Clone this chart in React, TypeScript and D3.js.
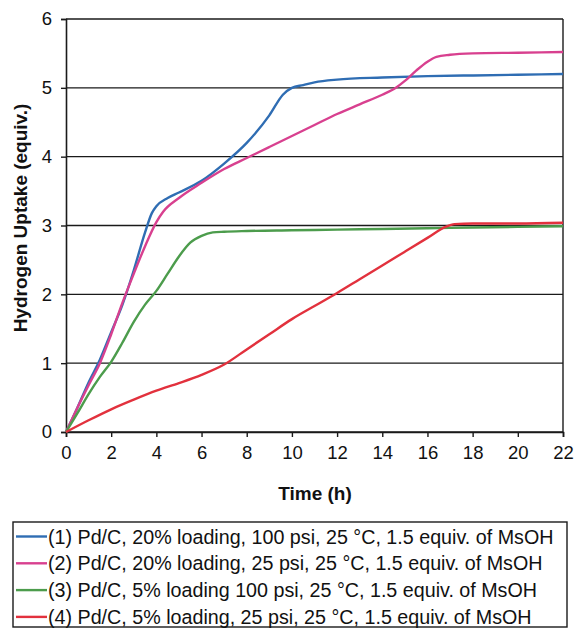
import React, { useRef, useEffect } from "react";
import { select, scaleLinear, line, curveMonotoneX, axisBottom, axisLeft } from "d3";

// hours and uptake
const blueT = [0, 0.5, 1, 1.5, 2, 2.5, 3, 3.5, 3.8, 4, 4.5, 5, 6, 7, 8, 9, 9.6, 10, 10.5, 11, 12, 14, 16, 18, 20, 22];
const blueY = [0, 0.35, 0.72, 1.05, 1.45, 1.85, 2.35, 2.9, 3.18, 3.28, 3.4, 3.48, 3.65, 3.9, 4.2, 4.6, 4.9, 5.0, 5.04, 5.08, 5.12, 5.15, 5.17, 5.18, 5.19, 5.2];

const pinkT = [0, 0.5, 1, 1.5, 2, 2.5, 3, 3.5, 4, 4.3, 5, 6, 7, 8, 9, 10, 11, 12, 13, 14, 14.6, 15, 15.5, 16, 16.4, 17, 18, 20, 22];
const pinkY = [0, 0.35, 0.68, 1.0, 1.42, 1.88, 2.3, 2.7, 3.05, 3.2, 3.4, 3.62, 3.82, 3.98, 4.14, 4.3, 4.46, 4.62, 4.76, 4.9, 5.0, 5.1, 5.25, 5.38, 5.45, 5.48, 5.5, 5.51, 5.52];

const greenT = [0, 0.5, 1, 1.5, 2, 2.5, 3, 3.5, 4, 4.5, 5, 5.5, 6, 6.5, 7, 8, 10, 12, 14, 16, 18, 20, 22];
const greenY = [0, 0.27, 0.55, 0.8, 1.02, 1.3, 1.6, 1.85, 2.05, 2.3, 2.55, 2.75, 2.85, 2.9, 2.91, 2.92, 2.93, 2.94, 2.95, 2.96, 2.97, 2.98, 2.99];

const redT = [0, 1, 2, 3, 4, 5, 6, 7, 8, 9, 10, 11, 12, 13, 14, 15, 16, 16.8, 17.2, 18, 20, 22];
const redY = [0, 0.17, 0.33, 0.47, 0.6, 0.71, 0.83, 0.98, 1.2, 1.42, 1.64, 1.83, 2.02, 2.22, 2.42, 2.62, 2.82, 2.98, 3.02, 3.03, 3.03, 3.04];

const xTicks = [0, 2, 4, 6, 8, 10, 12, 14, 16, 18, 20, 22];
const yTicks = [0, 1, 2, 3, 4, 5, 6];

const legendLabels = [
    "(1) Pd/C, 20% loading, 100 psi, 25 °C, 1.5 equiv. of MsOH",
    "(2) Pd/C, 20% loading, 25 psi, 25 °C, 1.5 equiv. of MsOH",
    "(3) Pd/C, 5% loading 100 psi, 25 °C, 1.5 equiv. of MsOH",
    "(4) Pd/C, 5% loading, 25 psi, 25 °C, 1.5 equiv. of MsOH"
];
const colors = ["#2f6db3", "#d8408f", "#4c9c4c", "#e2313d"];

const series = [
    { t: blueT, y: blueY },
    { t: pinkT, y: pinkY },
    { t: greenT, y: greenY },
    { t: redT, y: redY }
];

function App() {
    const svgRef = useRef<SVGSVGElement>(null);

    useEffect(() => {
        const svg = select(svgRef.current);
        svg.selectAll("*").remove();

        const left = 66, right = 563, top = 19, bottom = 432;
        const x = scaleLinear().domain([0, 22]).range([left, right]);
        const y = scaleLinear().domain([0, 6]).range([bottom, top]);
        const font = "'Liberation Sans', Arial, sans-serif";

        // horizontal grid
        svg.append("g")
            .selectAll("line")
            .data(yTicks)
            .join("line")
            .attr("x1", left)
            .attr("x2", right)
            .attr("y1", d => y(d))
            .attr("y2", d => y(d))
            .attr("stroke", "#1a1a1a")
            .attr("stroke-width", 1.4);

        // right frame
        svg.append("line")
            .attr("x1", right).attr("x2", right)
            .attr("y1", top).attr("y2", bottom)
            .attr("stroke", "#1a1a1a")
            .attr("stroke-width", 1.4);

        const xAxis = svg.append("g")
            .attr("transform", `translate(0,${bottom})`)
            .call(axisBottom(x).tickValues(xTicks).tickSize(5).tickPadding(9).tickFormat(d => String(d)));
        const yAxis = svg.append("g")
            .attr("transform", `translate(${left},0)`)
            .call(axisLeft(y).tickValues(yTicks).tickSize(5).tickPadding(9).tickFormat(d => String(d)));

        [xAxis, yAxis].forEach(g => {
            g.select(".domain").attr("stroke", "#1a1a1a").attr("stroke-width", 1.6);
            g.selectAll(".tick line").attr("stroke", "#1a1a1a").attr("stroke-width", 1.4);
            g.selectAll(".tick text")
                .attr("fill", "#111")
                .style("font-family", font)
                .style("font-size", "18.5px");
        });

        const lineGen = line<number>()
            .curve(curveMonotoneX);

        series.forEach((s, i) => {
            lineGen.x((_, j) => x(s.t[j])).y(v => y(v));
            svg.append("path")
                .attr("d", lineGen(s.y))
                .attr("fill", "none")
                .attr("stroke", colors[i])
                .attr("stroke-width", 2.4)
                .attr("stroke-linejoin", "round");
        });

        // axis titles
        svg.append("text")
            .attr("x", 315)
            .attr("y", 500)
            .attr("text-anchor", "middle")
            .style("font-family", font)
            .style("font-size", "19px")
            .style("font-weight", "bold")
            .attr("fill", "#111")
            .text("Time (h)");

        svg.append("text")
            .attr("transform", `translate(27,218) rotate(-90)`)
            .attr("text-anchor", "middle")
            .style("font-family", font)
            .style("font-size", "19px")
            .style("font-weight", "bold")
            .attr("fill", "#111")
            .text("Hydrogen Uptake (equiv.)");

        // legend
        const lg = svg.append("g");
        lg.append("rect")
            .attr("x", 13).attr("y", 522)
            .attr("width", 554).attr("height", 105)
            .attr("fill", "white")
            .attr("stroke", "#1a1a1a")
            .attr("stroke-width", 1.4);

        const rows = lg.selectAll("g")
            .data(legendLabels)
            .join("g")
            .attr("transform", (_, i) => `translate(0,${536.5 + i * 26.8})`);
        rows.append("line")
            .attr("x1", 16).attr("x2", 47)
            .attr("y1", 0).attr("y2", 0)
            .attr("stroke", (_, i) => colors[i])
            .attr("stroke-width", 2.4);
        rows.append("text")
            .attr("x", 48)
            .attr("y", 7)
            .style("font-family", font)
            .style("font-size", "19.7px")
            .attr("fill", "#111")
            .text(d => d);
    }, []);

    return (
        <svg ref={svgRef} width={577} height={633} style={{ position: "absolute", left: 0, top: 0, background: "white" }} />
    );
}

export default App;
